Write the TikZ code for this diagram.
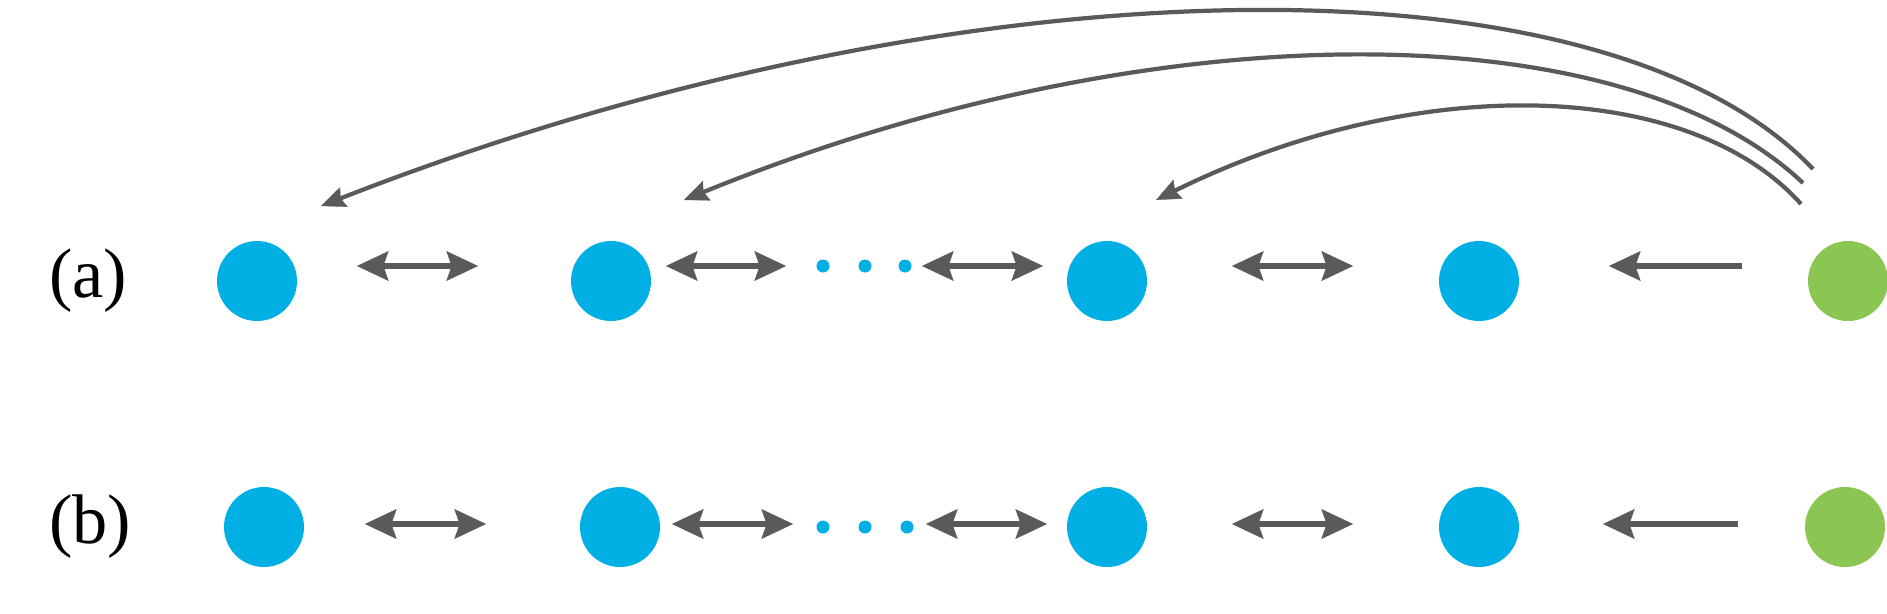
\documentclass[tikz,border=0pt]{standalone}
\usepackage{fontspec}
\setmainfont{Liberation Serif}
\usetikzlibrary{arrows.meta}
\definecolor{dotblue}{RGB}{0,176,228}
\definecolor{dotgreen}{RGB}{140,198,82}
\definecolor{arrowgray}{RGB}{90,90,90}
\begin{document}
\begin{tikzpicture}[x=0.02cm,y=-0.02cm]
	\tikzstyle{blue dot}=[fill=dotblue,circle,inner sep=0pt,minimum size=80*0.02cm]
	\tikzstyle{green dot}=[fill=dotgreen,circle,inner sep=0pt,minimum size=80*0.02cm]
	\tikzstyle{small dot}=[fill=dotblue,circle,inner sep=0pt,minimum size=13*0.02cm]
	\tikzstyle{link}=[draw=arrowgray,line width=3.4pt,{Stealth[length=18pt,width=17pt,inset=3pt,line width=0.2pt]}-{Stealth[length=18pt,width=17pt,inset=3pt,line width=0.2pt]}]
	\tikzstyle{back}=[draw=arrowgray,line width=3.4pt,-{Stealth[length=18pt,width=17pt,inset=3pt,line width=0.2pt]}]
	\tikzstyle{jump}=[draw=arrowgray,line width=2.4pt,-{Stealth[length=14pt,width=12pt,inset=2pt,line width=0.2pt]}]
	\useasboundingbox (0,0) rectangle (1887,613);
	\clip (0,0) rectangle (1887,613);
	% row (a)
	\node[font=\fontsize{40}{44}\selectfont] (la) at (88,281) {(a)};
	\node[blue dot] (a1) at (257,281) {};
	\node[blue dot] (a2) at (611,281) {};
	\node[blue dot] (a3) at (1107,281) {};
	\node[blue dot] (a4) at (1479,281) {};
	\node[green dot] (a5) at (1848,281) {};
	\foreach \x/\n in {823/1,865/2,905/3}
		\node[small dot] (ad\n) at (\x,266) {};
	\coordinate (as1) at (357,266); \coordinate (ae1) at (478,266);
	\coordinate (as2) at (666,266); \coordinate (ae2) at (786,266);
	\coordinate (as3) at (922,266); \coordinate (ae3) at (1043,266);
	\coordinate (as4) at (1232,266); \coordinate (ae4) at (1353,266);
	\coordinate (as5) at (1742,266); \coordinate (ae5) at (1609,266);
	\foreach \i in {1,2,3,4}
		\draw[link] (as\i) -- (ae\i);
	\draw[back] (as5) -- (ae5);
	% long jumps
	\coordinate (j1) at (1813,169); \coordinate (t1) at (321,206);
	\coordinate (j2) at (1803,183); \coordinate (t2) at (684,200);
	\coordinate (j3) at (1801,204); \coordinate (t3) at (1156,200);
	\draw[jump] (j1) .. controls (1600,-55) and (950,-40) .. (t1);
	\draw[jump] (j2) .. controls (1620,10) and (1150,10) .. (t2);
	\draw[jump] (j3) .. controls (1690,80) and (1420,70) .. (t3);
	% row (b)
	\node[font=\fontsize{40}{44}\selectfont] (lb) at (90,527) {(b)};
	\node[blue dot] (b1) at (264,527) {};
	\node[blue dot] (b2) at (620,527) {};
	\node[blue dot] (b3) at (1107,527) {};
	\node[blue dot] (b4) at (1479,527) {};
	\node[green dot] (b5) at (1845,527) {};
	\foreach \x/\n in {823/1,865/2,907/3}
		\node[small dot] (bd\n) at (\x,527) {};
	\coordinate (bs1) at (365,524); \coordinate (be1) at (486,524);
	\coordinate (bs2) at (672,524); \coordinate (be2) at (793,524);
	\coordinate (bs3) at (926,524); \coordinate (be3) at (1047,524);
	\coordinate (bs4) at (1232,524); \coordinate (be4) at (1353,524);
	\coordinate (bs5) at (1738,524); \coordinate (be5) at (1603,524);
	\foreach \i in {1,2,3,4}
		\draw[link] (bs\i) -- (be\i);
	\draw[back] (bs5) -- (be5);
\end{tikzpicture}
\end{document}
